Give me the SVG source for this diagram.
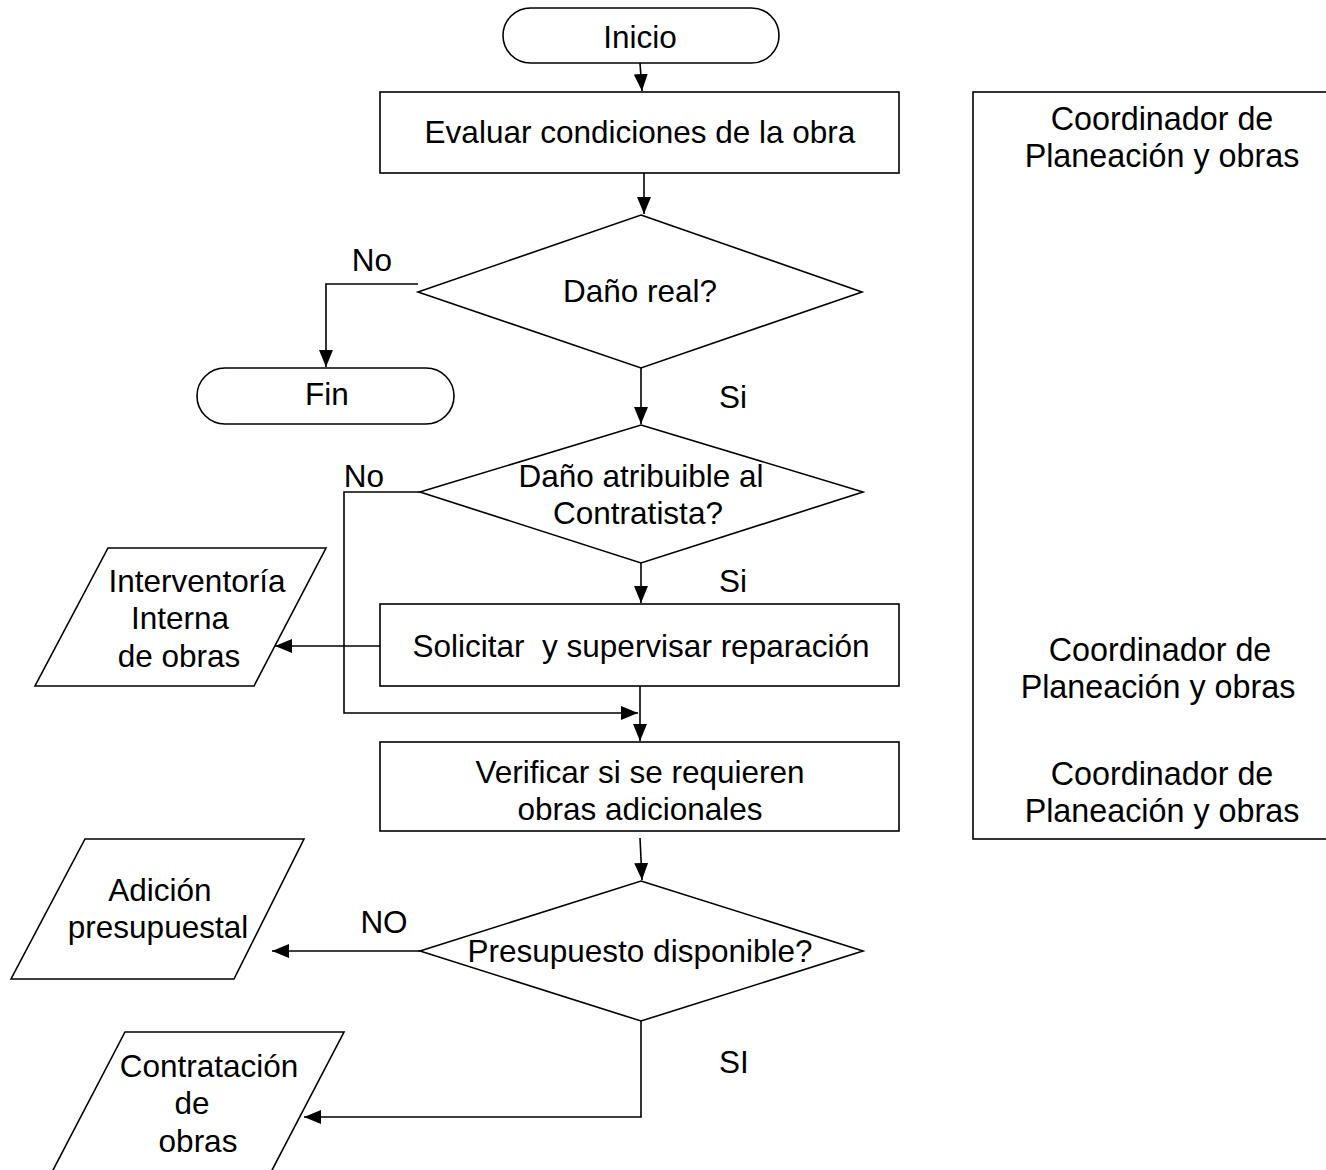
<svg xmlns="http://www.w3.org/2000/svg" width="1326" height="1170" viewBox="0 0 1326 1170">
<style>
.s{fill:#fff;stroke:#000;stroke-width:1.6}
.c{fill:none;stroke:#000;stroke-width:1.6}
text{font-family:"Liberation Sans",Arial,sans-serif;font-size:31.5px;fill:#000;text-anchor:middle;white-space:pre}
.r{font-size:32.3px}
</style>
<defs>
<marker id="ah" markerUnits="userSpaceOnUse" markerWidth="18" markerHeight="16" refX="17" refY="7" orient="auto">
<path d="M0,0 L17,7 L0,14 z" fill="#000"/>
</marker>
</defs>
<rect width="1326" height="1170" fill="#fff"/>
<g id="connectors">
<path class="c" d="M640,63 L642,91" marker-end="url(#ah)"/>
<path class="c" d="M644,173 V214" marker-end="url(#ah)"/>
<path class="c" d="M418,284 H326 V367" marker-end="url(#ah)"/>
<path class="c" d="M641,368 V424" marker-end="url(#ah)"/>
<path class="c" d="M420,492 H344 V713 H638" marker-end="url(#ah)"/>
<path class="c" d="M641,563 V603" marker-end="url(#ah)"/>
<path class="c" d="M380,646 H275" marker-end="url(#ah)"/>
<path class="c" d="M640,686 V741" marker-end="url(#ah)"/>
<path class="c" d="M640,838 L642,880" marker-end="url(#ah)"/>
<path class="c" d="M420,951 H272" marker-end="url(#ah)"/>
<path class="c" d="M641,1021 V1117 H304" marker-end="url(#ah)"/>
</g>
<g id="inicio"><rect class="s" x="503" y="8" width="276" height="55" rx="27.5"/><text x="640" y="48">Inicio</text></g>
<g id="evaluar"><rect class="s" x="380" y="92" width="519" height="81"/><text x="640" y="143">Evaluar condiciones de la obra</text></g>
<g id="dano-real"><polygon class="s" points="641,215 862,292 641,368 418,292"/><text x="640" y="302">Daño real?</text></g>
<g id="fin"><rect class="s" x="197" y="368" width="257" height="56" rx="28"/><text x="327" y="405">Fin</text></g>
<g id="atribuible"><polygon class="s" points="641,425 863,492 641,563 420,492"/><text x="641" y="487">Daño atribuible al</text><text x="638" y="524">Contratista?</text></g>
<g id="solicitar"><rect class="s" x="380" y="604" width="519" height="82"/><text x="641" y="657">Solicitar  y supervisar reparación</text></g>
<g id="interventoria"><polygon class="s" points="108,548 326,548 254,686 35,686"/><text x="197" y="592">Interventoría</text><text x="180" y="629">Interna</text><text x="179" y="667">de obras</text></g>
<g id="verificar"><rect class="s" x="380" y="742" width="519" height="89"/><text x="640" y="783">Verificar si se requieren</text><text x="640" y="820">obras adicionales</text></g>
<g id="presupuesto"><polygon class="s" points="641,881 863,951 641,1021 420,951"/><text x="640" y="962">Presupuesto disponible?</text></g>
<g id="adicion"><polygon class="s" points="85,839 304,839 234,979 11,979"/><text x="160" y="901">Adición</text><text x="158" y="938">presupuestal</text></g>
<g id="contratacion"><polygon class="s" points="125,1032 344,1032 271,1172 52,1172"/><text x="209" y="1077">Contratación</text><text x="192" y="1114">de</text><text x="198" y="1152">obras</text></g>
<g id="labels">
<text x="372" y="271">No</text>
<text x="733" y="408">Si</text>
<text x="364" y="487">No</text>
<text x="733" y="592">Si</text>
<text x="384" y="933">NO</text>
<text x="734" y="1073">SI</text>
</g>
<g id="responsables">
<rect class="s" x="973" y="92" width="360" height="747"/>
<text class="r" x="1162" y="130">Coordinador de</text>
<text class="r" x="1162" y="167">Planeación y obras</text>
<text class="r" x="1160" y="661">Coordinador de</text>
<text class="r" x="1158" y="698">Planeación y obras</text>
<text class="r" x="1162" y="785">Coordinador de</text>
<text class="r" x="1162" y="822">Planeación y obras</text>
</g>
</svg>
